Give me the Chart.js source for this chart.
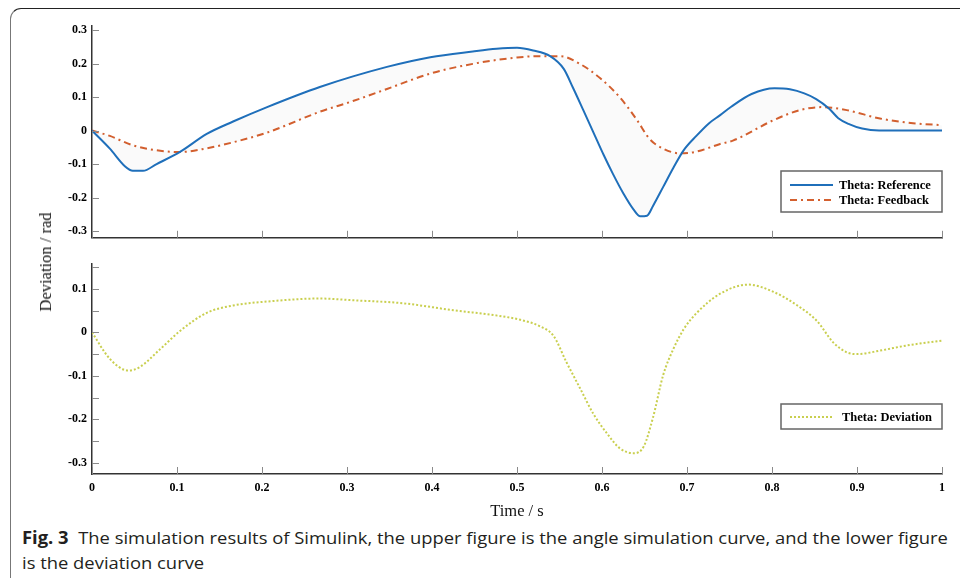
<!DOCTYPE html>
<html><head><meta charset="utf-8">
<script src="https://cdn.jsdelivr.net/npm/chart.js@4.4.0/dist/chart.umd.min.js"></script>
<style>
html,body{margin:0;padding:0;background:#fff;width:960px;height:578px;overflow:hidden;position:relative;}
#frame{position:absolute;left:10px;top:8px;width:1000px;height:700px;border-top:1.5px solid #222;border-left:1.5px solid #777;border-top-left-radius:11px;box-sizing:border-box;}
#c1{position:absolute;left:0;top:0;}
#c2{position:absolute;left:0;top:252px;}
.ytitle{position:absolute;left:46px;top:262px;transform:translate(-50%,-50%) rotate(-90deg);font:16.5px "Liberation Serif";white-space:nowrap;color:#111;}
.xtitle{position:absolute;left:517px;top:511px;transform:translate(-50%,-50%);font:16.5px "Liberation Serif";white-space:nowrap;color:#111;}
.cap{position:absolute;left:22px;font:17px "Open Sans";white-space:nowrap;transform-origin:0 50%;color:#231f20;line-height:20px;}
</style>
</head><body>
<div id="frame"></div>
<canvas id="c1" width="960" height="250"></canvas>
<canvas id="c2" width="960" height="272"></canvas>
<div class="ytitle">Deviation / rad</div>
<div class="xtitle">Time / s</div>
<div id="cap1" class="cap" style="top:528px"><b>Fig. 3</b>&nbsp; The simulation results of Simulink, the upper figure is the angle simulation curve, and the lower figure</div>
<div id="cap2" class="cap" style="top:553px">is the deviation curve</div>
<script>
// ---- data ----
const refT = [0, 0.021, 0.039, 0.048, 0.06, 0.076, 0.104, 0.135, 0.166, 0.206, 0.268, 0.347, 0.398, 0.448, 0.476, 0.5, 0.519, 0.539, 0.555, 0.566, 0.578, 0.59, 0.602, 0.613, 0.625, 0.637, 0.645, 0.653, 0.66, 0.672, 0.684, 0.696, 0.711, 0.726, 0.739, 0.752, 0.776, 0.803, 0.821, 0.838, 0.852, 0.867, 0.878, 0.89, 0.906, 0.926, 1];
const refV = [0, -0.054, -0.107, -0.12, -0.12, -0.1, -0.063, -0.01, 0.027, 0.07, 0.13, 0.19, 0.219, 0.236, 0.244, 0.247, 0.239, 0.222, 0.184, 0.127, 0.061, -0.006, -0.073, -0.13, -0.187, -0.235, -0.256, -0.254, -0.225, -0.168, -0.111, -0.059, -0.016, 0.022, 0.046, 0.071, 0.109, 0.126, 0.123, 0.111, 0.094, 0.066, 0.037, 0.02, 0.006, 0, 0];
const fbT = [0, 0.021, 0.048, 0.076, 0.104, 0.135, 0.166, 0.206, 0.268, 0.307, 0.347, 0.398, 0.448, 0.5, 0.527, 0.551, 0.574, 0.598, 0.621, 0.641, 0.656, 0.672, 0.692, 0.711, 0.739, 0.754, 0.801, 0.833, 0.859, 0.888, 0.927, 0.966, 1];
const fbV = [0, -0.016, -0.044, -0.059, -0.064, -0.053, -0.035, -0.006, 0.056, 0.088, 0.124, 0.17, 0.199, 0.218, 0.222, 0.222, 0.199, 0.156, 0.099, 0.032, -0.025, -0.054, -0.068, -0.063, -0.04, -0.03, 0.03, 0.061, 0.07, 0.061, 0.036, 0.022, 0.016];
const devT = [0, 0.021, 0.043, 0.056, 0.08, 0.104, 0.135, 0.166, 0.206, 0.268, 0.307, 0.366, 0.425, 0.472, 0.504, 0.527, 0.543, 0.558, 0.574, 0.59, 0.606, 0.621, 0.637, 0.649, 0.66, 0.672, 0.684, 0.696, 0.711, 0.739, 0.772, 0.801, 0.829, 0.853, 0.872, 0.888, 0.9, 0.927, 0.959, 1];
const devV = [0, -0.061, -0.088, -0.08, -0.039, 0.004, 0.045, 0.062, 0.071, 0.078, 0.074, 0.067, 0.051, 0.04, 0.029, 0.014, -0.008, -0.068, -0.128, -0.188, -0.233, -0.267, -0.278, -0.263, -0.196, -0.098, -0.038, 0.007, 0.044, 0.089, 0.11, 0.094, 0.063, 0.026, -0.023, -0.046, -0.05, -0.042, -0.03, -0.019];
const xTicks = [0, 0.1, 0.2, 0.3, 0.4, 0.5, 0.6, 0.7, 0.8, 0.9, 1];
const xTickLabels = ['0', '0.1', '0.2', '0.3', '0.4', '0.5', '0.6', '0.7', '0.8', '0.9', '1'];
const topYTicks = [-0.3, -0.2, -0.1, 0, 0.1, 0.2, 0.3];
const topYLabels = ['-0.3', '-0.2', '-0.1', '0', '0.1', '0.2', '0.3'];
const botYTicks = [-0.3, -0.2, -0.1, 0, 0.1];
const botYLabels = ['-0.3', '-0.2', '-0.1', '0', '0.1'];
const botYMinor = [-0.3, -0.25, -0.2, -0.15, -0.1, -0.05, 0, 0.05, 0.1, 0.15];
const seriesNames = ['Theta: Reference', 'Theta: Feedback', 'Theta: Deviation'];

const pts = (t, v) => t.map((x, i) => ({x, y: v[i]}));
const tickFont = {family: 'Liberation Serif', size: 12, weight: 'bold'};

const inwardTicks = {
  id: 'inwardTicks',
  afterDraw(chart, args, o) {
    const {ctx, chartArea: a, scales: {x, y}} = chart;
    ctx.save(); ctx.strokeStyle = '#8a8a8a'; ctx.lineWidth = 1; ctx.beginPath();
    o.yTicks.forEach(v => { const py = Math.round(y.getPixelForValue(v)) + 0.5; ctx.moveTo(a.left, py); ctx.lineTo(a.left + 7, py); });
    o.xTicks.forEach(v => { const px = Math.round(x.getPixelForValue(v)) + 0.5; ctx.moveTo(px, a.bottom); ctx.lineTo(px, a.bottom - 7); });
    ctx.stroke(); ctx.restore();
  }
};
const boxLegend = {
  id: 'boxLegend',
  afterDraw(chart, args, o) {
    const ctx = chart.ctx;
    ctx.save();
    ctx.fillStyle = '#fff'; ctx.fillRect(o.x, o.y, o.w, o.h);
    ctx.strokeStyle = '#666'; ctx.lineWidth = 1.5; ctx.strokeRect(o.x, o.y, o.w, o.h);
    o.items.forEach((it, i) => {
      const ds = chart.data.datasets[it];
      const yy = o.y + o.first + i * o.step;
      ctx.beginPath(); ctx.strokeStyle = ds.borderColor; ctx.lineWidth = ds.borderWidth;
      ctx.setLineDash(ds.borderDash || []);
      ctx.moveTo(o.x + 9, yy); ctx.lineTo(o.x + 52, yy); ctx.stroke();
      ctx.setLineDash([]);
      ctx.fillStyle = '#000'; ctx.font = 'bold 12.5px "Liberation Serif"'; ctx.textBaseline = 'middle'; ctx.textAlign = 'left';
      ctx.fillText(ds.label, o.x + o.tx, yy + 1);
    });
    ctx.restore();
  }
};

function yScale(min, max, ticks, labels) {
  return {
    type: 'linear', min, max,
    grid: {display: false, drawTicks: false},
    border: {display: true, color: '#333', width: 1.5},
    ticks: {font: tickFont, color: '#000', padding: 5, callback: (v) => { const i = ticks.findIndex(t => Math.abs(t - v) < 1e-6); return i >= 0 ? labels[i] : ''; }},
    afterBuildTicks: s => { s.ticks = ticks.map(v => ({value: v})); },
    afterFit: s => { s.width = 92; }
  };
}
function xScale(showLabels, h) {
  return {
    type: 'linear', min: 0, max: 1,
    grid: {display: false, drawTicks: false},
    border: {display: true, color: '#333', width: 1.5},
    ticks: {display: showLabels, font: tickFont, color: '#000', padding: 7, maxRotation: 0, autoSkip: false,
      callback: (v) => { const i = xTicks.findIndex(t => Math.abs(t - v) < 1e-6); return i >= 0 ? xTickLabels[i] : ''; }},
    afterBuildTicks: s => { s.ticks = xTicks.map(v => ({value: v})); },
    afterFit: s => { s.height = h; }
  };
}

new Chart(document.getElementById('c1'), {
  type: 'line',
  data: {datasets: [
    {label: seriesNames[0], data: pts(refT, refV), borderColor: '#1f6fba', borderWidth: 2, pointRadius: 0, cubicInterpolationMode: 'monotone', fill: '+1', backgroundColor: 'rgba(0,0,0,0.018)'},
    {label: seriesNames[1], data: pts(fbT, fbV), borderColor: '#d4602f', borderWidth: 2, borderDash: [7, 4, 2, 4], pointRadius: 0, cubicInterpolationMode: 'monotone', fill: false}
  ]},
  options: {
    responsive: false, animation: false, devicePixelRatio: 1,
    layout: {padding: {left: 0, right: 18, top: 26, bottom: 3}},
    scales: {x: xScale(false, 0), y: yScale(-0.32, 0.312, topYTicks, topYLabels)},
    plugins: {legend: {display: false}, tooltip: {enabled: false},
      inwardTicks: {xTicks, yTicks: topYTicks},
      boxLegend: {x: 781, y: 171, w: 161, h: 41, first: 14, step: 15, tx: 58, items: [0, 1]}}
  },
  plugins: [inwardTicks, boxLegend]
});

new Chart(document.getElementById('c2'), {
  type: 'line',
  data: {datasets: [
    {label: seriesNames[2], data: pts(devT, devV), borderColor: '#c9cf4f', borderWidth: 2, borderDash: [2, 2], pointRadius: 0, cubicInterpolationMode: 'monotone', fill: false}
  ]},
  options: {
    responsive: false, animation: false, devicePixelRatio: 1,
    layout: {padding: {left: 0, right: 18, top: 8, bottom: 0}},
    scales: {x: xScale(true, 50), y: yScale(-0.326, 0.157, botYTicks, botYLabels)},
    plugins: {legend: {display: false}, tooltip: {enabled: false},
      inwardTicks: {xTicks, yTicks: botYMinor},
      boxLegend: {x: 781, y: 152, w: 161, h: 25, first: 13, step: 15, tx: 61, items: [0]}}
  },
  plugins: [inwardTicks, boxLegend]
});

const c1 = document.getElementById('cap1'), c2 = document.getElementById('cap2');
const sc = 926 / c1.offsetWidth;
c1.style.transform = 'scaleX(' + sc + ')';
c2.style.transform = 'scaleX(' + sc + ')';
</script>
</body></html>
